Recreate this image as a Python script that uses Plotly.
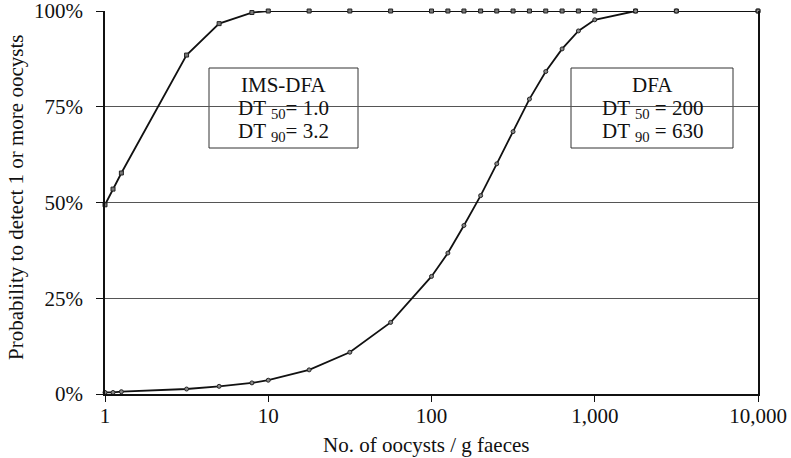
import plotly.graph_objects as go

# Data
oocysts = [1, 1.12, 1.26, 3.16, 5.0, 7.94, 10, 17.8, 31.6, 56.2, 100, 126, 158, 200,
           251, 316, 398, 501, 631, 794, 1000, 1778, 3162, 10000]
ims_dfa = [49.4, 53.5, 57.7, 88.5, 96.7, 99.6, 100, 100, 100, 100, 100, 100, 100, 100,
           100, 100, 100, 100, 100, 100, 100, 100, 100, 100]
dfa = [0.4, 0.4, 0.6, 1.3, 2.0, 2.9, 3.6, 6.3, 10.9, 18.7, 30.7, 36.8, 44.0, 51.8,
       60.1, 68.5, 77.0, 84.2, 90.1, 94.8, 97.7, 100, 100, 100]

x_tickvals = [1, 10, 100, 1000, 10000]
x_ticktext = ["1", "10", "100", "1,000", "10,000"]
y_tickvals = [0, 25, 50, 75, 100]
y_ticktext = ["0%", "25%", "50%", "75%", "100%"]

FONT = "Liberation Serif, Times New Roman, serif"
FS = 21

W, H = 791, 458
L, R, T, B = 105, 33, 11, 64
pw, ph = W - L - R, H - T - B


def px(wx):
    return (wx - L) / pw


def py(wy):
    return (H - B - wy) / ph


fig = go.Figure()
fig.add_trace(go.Scatter(
    x=oocysts, y=ims_dfa, mode="lines+markers", name="IMS-DFA",
    line=dict(color="#111111", width=1.8),
    marker=dict(symbol="square", size=4, color="#777777", line=dict(color="#222222", width=1)),
    cliponaxis=False,
))
fig.add_trace(go.Scatter(
    x=oocysts, y=dfa, mode="lines+markers", name="DFA",
    line=dict(color="#111111", width=1.8),
    marker=dict(symbol="circle", size=4, color="#888888", line=dict(color="#222222", width=1)),
    cliponaxis=False,
))

# Annotation boxes
boxes = [
    dict(x0=209, x1=358, lines=["IMS-DFA", "DT <sub>50</sub>= 1.0", "DT <sub>90</sub>= 3.2"]),
    dict(x0=571, x1=733, lines=["DFA", "DT <sub>50</sub> = 200", "DT <sub>90</sub> = 630"]),
]
for b in boxes:
    fig.add_shape(type="rect", xref="paper", yref="paper",
                  x0=px(b["x0"]), x1=px(b["x1"]), y0=py(148), y1=py(68),
                  line=dict(color="#333333", width=1), fillcolor="white", layer="between")
    cx = px((b["x0"] + b["x1"]) / 2)
    for txt, yc in zip(b["lines"], [85, 109, 132]):
        fig.add_annotation(x=cx, y=py(yc), xref="paper", yref="paper",
                           text=txt, showarrow=False, xanchor="center", yanchor="middle",
                           font=dict(family=FONT, size=FS, color="#111111"))

# Axis titles
fig.add_annotation(x=px(16), y=py(198), xref="paper", yref="paper",
                   text="Probability to detect 1 or more oocysts", textangle=-90,
                   showarrow=False, xanchor="center", yanchor="middle",
                   font=dict(family=FONT, size=FS, color="#111111"))
fig.add_annotation(x=px(426), y=py(445), xref="paper", yref="paper",
                   text="No. of oocysts / g faeces",
                   showarrow=False, xanchor="center", yanchor="middle",
                   font=dict(family=FONT, size=FS, color="#111111"))

fig.update_layout(
    width=W, height=H,
    margin=dict(l=L, r=R, t=T, b=B, autoexpand=False),
    paper_bgcolor="white", plot_bgcolor="white",
    showlegend=False,
    font=dict(family=FONT, size=FS, color="#111111"),
)
fig.update_xaxes(
    type="log", range=[0, 4], automargin=False,
    tickvals=x_tickvals, ticktext=x_ticktext,
    showgrid=False, zeroline=False,
    showline=True, linecolor="#111111", linewidth=1.5,
    ticks="outside", ticklen=6, tickcolor="#111111",
    ticklabelstandoff=-4, ticklabeloverflow="allow",
    tickfont=dict(family=FONT, size=FS),
)
fig.update_yaxes(
    range=[0, 100], automargin=False,
    tickvals=y_tickvals, ticktext=y_ticktext,
    showgrid=True, gridcolor="#555555", gridwidth=1,
    zeroline=False,
    showline=True, linecolor="#111111", linewidth=1.5, mirror=True,
    ticks="outside", ticklen=7, tickcolor="#111111",
    ticklabelstandoff=9, ticklabeloverflow="allow",
    tickfont=dict(family=FONT, size=FS),
)

# remove the default page margin so the figure fills the window exactly
fig.write_html("out.html", config={"displayModeBar": False},
               post_script="document.body.style.margin='0';")
